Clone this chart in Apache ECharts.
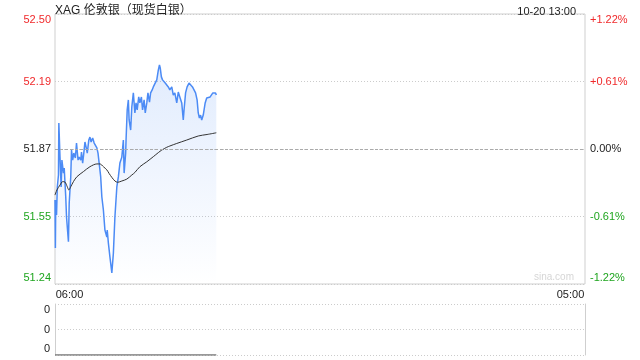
<!DOCTYPE html>
<html>
<head>
<meta charset="utf-8">
<script src="https://cdn.jsdelivr.net/npm/echarts@6/dist/echarts.min.js"></script>
<style>html,body{margin:0;padding:0;background:#fff}#c{width:640px;height:360px}</style>
</head>
<body>
<div id="c"></div>
<script>
// ---- data (minutes since 06:00) ----
const titleText = 'XAG 伦敦银（现货白银）';
const dateText = '10-20 13:00';
const timeLabels = ['06:00', '05:00'];
const totalMinutes = 1380;
const prevClose = 51.868;
const leftLabels = ['51.24', '51.55', '51.87', '52.19', '52.50'];
const rightLabels = ['-1.22%', '-0.61%', '0.00%', '+0.61%', '+1.22%'];
const volLabels = ['0', '0', '0'];

const priceMinutes = [0,1,2,4,6,9,10,13,16,18,22,24,28,30,35,37,41,43,46,49,53,56,60,63,67,69,72,75,78,81,84,88,91,94,98,102,105,109,112,115,119,122,126,130,135,136,139,143,148,152,156,161,165,169,174,178,180,184,185,188,191,193,197,200,204,208,211,214,218,221,225,228,232,235,239,242,246,249,253,256,260,265,269,272,274,277,280,284,287,291,295,299,304,308,312,317,321,325,330,334,336,340,344,349,353,358,362,366,370,373,376,379,382,386,391,395,399,404,408,411,415,418,420];
const prices = [51.629,51.404,51.629,51.559,51.690,51.746,51.990,51.830,51.690,51.816,51.755,51.779,51.643,51.549,51.433,51.615,51.737,51.863,51.816,51.849,51.826,51.896,51.816,51.830,51.816,51.854,51.802,51.849,51.901,51.877,51.849,51.910,51.924,51.901,51.920,51.896,51.901,51.873,51.849,51.840,51.737,51.643,51.582,51.488,51.455,51.488,51.427,51.362,51.287,51.380,51.549,51.690,51.737,51.802,51.830,51.910,51.755,51.849,51.910,52.051,52.098,52.004,51.957,52.065,52.131,52.037,52.084,52.051,52.112,52.084,52.112,52.051,52.098,52.037,52.084,52.131,52.088,52.131,52.145,52.159,52.154,52.192,52.238,52.262,52.248,52.206,52.192,52.201,52.177,52.182,52.159,52.145,52.159,52.121,52.131,52.084,52.135,52.112,52.084,52.004,52.051,52.131,52.159,52.177,52.182,52.159,52.154,52.131,52.098,52.037,52.013,52.027,52.004,52.027,52.084,52.107,52.098,52.112,52.107,52.131,52.135,52.131,52.121];

const avgMinutes = [0,5,13,20,26,32,36,41,48,57,74,91,109,117,126,135,141,148,156,163,174,187,200,208,221,239,256,269,278,291,299,317,343,373,396,420];
const avgPrices = [51.652,51.676,51.699,51.715,51.713,51.691,51.676,51.691,51.715,51.738,51.762,51.785,51.798,51.798,51.785,51.770,51.753,51.735,51.718,51.712,51.718,51.727,51.746,51.758,51.785,51.808,51.832,51.851,51.863,51.876,51.882,51.894,51.910,51.929,51.936,51.944];

const volMinutes = [0, 420];
const volumes = [0, 0];

// ---- build ----
const step = prevClose * 0.0061;
const toU = p => (p - prevClose) / step;
const priceData = priceMinutes.map((m, i) => [m, toU(prices[i])]);
const avgData = avgMinutes.map((m, i) => [m, toU(avgPrices[i])]);
const volData = volMinutes.map((m, i) => [m, volumes[i]]);

const FONT = 'Arial, "Liberation Sans", "Noto Sans CJK SC", sans-serif';
const RED = '#f0292b', GREEN = '#1fa51f', BLACK = '#222';

function yRich() {
  return {
    rt: {color: RED, fontSize: 11, fontFamily: FONT, padding: [12, 0, 0, 0]},
    r: {color: RED, fontSize: 11, fontFamily: FONT},
    k: {color: BLACK, fontSize: 11, fontFamily: FONT},
    g: {color: GREEN, fontSize: 11, fontFamily: FONT},
    gb: {color: GREEN, fontSize: 11, fontFamily: FONT, padding: [0, 0, 12, 0]}
  };
}
function yFmt(labels) {
  return function (v) {
    const i = Math.round(v) + 2;
    const styles = ['gb', 'g', 'k', 'r', 'rt'];
    return '{' + styles[i] + '|' + labels[i] + '}';
  };
}

const chart = echarts.init(document.getElementById('c'), null, {renderer: 'canvas'});
chart.setOption({
  animation: false,
  backgroundColor: '#fff',
  title: [
    {text: titleText, left: 50, top: 0, textStyle: {fontSize: 12, fontWeight: 'normal', color: '#222', fontFamily: FONT}},
    {text: dateText, right: 59, top: 1, textStyle: {fontSize: 11, fontWeight: 'normal', color: '#222', fontFamily: FONT}}
  ],
  graphic: [
    {type: 'text', right: 66, top: 272, style: {text: 'sina.com', fill: '#d6d6d6', font: '10px ' + FONT}}
  ],
  grid: [
    {left: 55, right: 55, top: 14, height: 270, show: true, borderColor: '#cfcfcf', borderWidth: 1, backgroundColor: 'transparent'},
    {left: 55, right: 55, top: 304, height: 51, show: false}
  ],
  xAxis: [
    {type: 'value', gridIndex: 0, min: 0, max: totalMinutes, interval: totalMinutes,
     axisLine: {show: false}, axisTick: {show: false}, splitLine: {show: false},
     axisLabel: {margin: 5, formatter: v => v === 0 ? '{l|' + timeLabels[0] + '}' : '{rr|' + timeLabels[1] + '}',
       rich: {l: {fontSize: 11, color: '#222', fontFamily: FONT, padding: [0, 0, 0, 29]},
              rr: {fontSize: 11, color: '#222', fontFamily: FONT, padding: [0, 29, 0, 0]}}}},
    {type: 'value', gridIndex: 1, min: 0, max: totalMinutes, show: false}
  ],
  yAxis: [
    {type: 'value', gridIndex: 0, position: 'left', min: -2, max: 2, interval: 1,
     axisLine: {show: false}, axisTick: {show: false},
     splitLine: {show: true, lineStyle: {color: '#cccccc', type: [1, 2], width: 1}},
     axisLabel: {margin: 4, formatter: yFmt(leftLabels), rich: yRich()}},
    {type: 'value', gridIndex: 0, position: 'right', min: -2, max: 2, interval: 1,
     axisLine: {show: false}, axisTick: {show: false}, splitLine: {show: false},
     axisLabel: {margin: 5, formatter: yFmt(rightLabels), rich: yRich()}},
    {type: 'value', gridIndex: 1, position: 'left', min: 0, max: 2, interval: 1,
     axisLine: {show: true, lineStyle: {color: '#cfcfcf'}}, axisTick: {show: false},
     splitLine: {show: true, lineStyle: {color: '#cccccc', type: [1, 2]}},
     axisLabel: {margin: 5, formatter: v => {
       const i = Math.round(v);
       const s = i === 0 ? 'b' : (i === 2 ? 't' : 'm');
       return '{' + s + '|' + volLabels[i] + '}';
     }, rich: {
       t: {color: '#222', fontSize: 11, fontFamily: FONT, padding: [12, 0, 0, 0]},
       m: {color: '#222', fontSize: 11, fontFamily: FONT},
       b: {color: '#222', fontSize: 11, fontFamily: FONT, padding: [0, 0, 13, 0]}
     }}},
    {type: 'value', gridIndex: 1, position: 'right', min: 0, max: 2, interval: 1,
     axisLine: {show: true, lineStyle: {color: '#cfcfcf'}}, axisTick: {show: false},
     splitLine: {show: false}, axisLabel: {show: false}}
  ],
  series: [
    {type: 'line', xAxisIndex: 0, yAxisIndex: 0, data: priceData, symbol: 'none',
     lineStyle: {color: '#4c8bf5', width: 1.5}, itemStyle: {color: '#4c8bf5'},
     areaStyle: {origin: 'start', color: new echarts.graphic.LinearGradient(0, 0, 0, 1, [
       {offset: 0, color: 'rgba(76,139,245,0.24)'}, {offset: 1, color: 'rgba(76,139,245,0.0)'}])},
     markLine: {silent: true, symbol: 'none', label: {show: false},
       lineStyle: {color: '#aaaaaa', type: [3, 2], width: 1}, data: [{yAxis: 0}]}},
    {type: 'line', xAxisIndex: 0, yAxisIndex: 0, data: avgData, symbol: 'none', smooth: 0.3,
     lineStyle: {color: '#333', width: 1}, itemStyle: {color: '#333'}},
    {type: 'line', xAxisIndex: 1, yAxisIndex: 2, data: volData, symbol: 'none',
     lineStyle: {color: '#777', width: 1.5}, itemStyle: {color: '#777'}}
  ]
});
</script>
</body>
</html>
